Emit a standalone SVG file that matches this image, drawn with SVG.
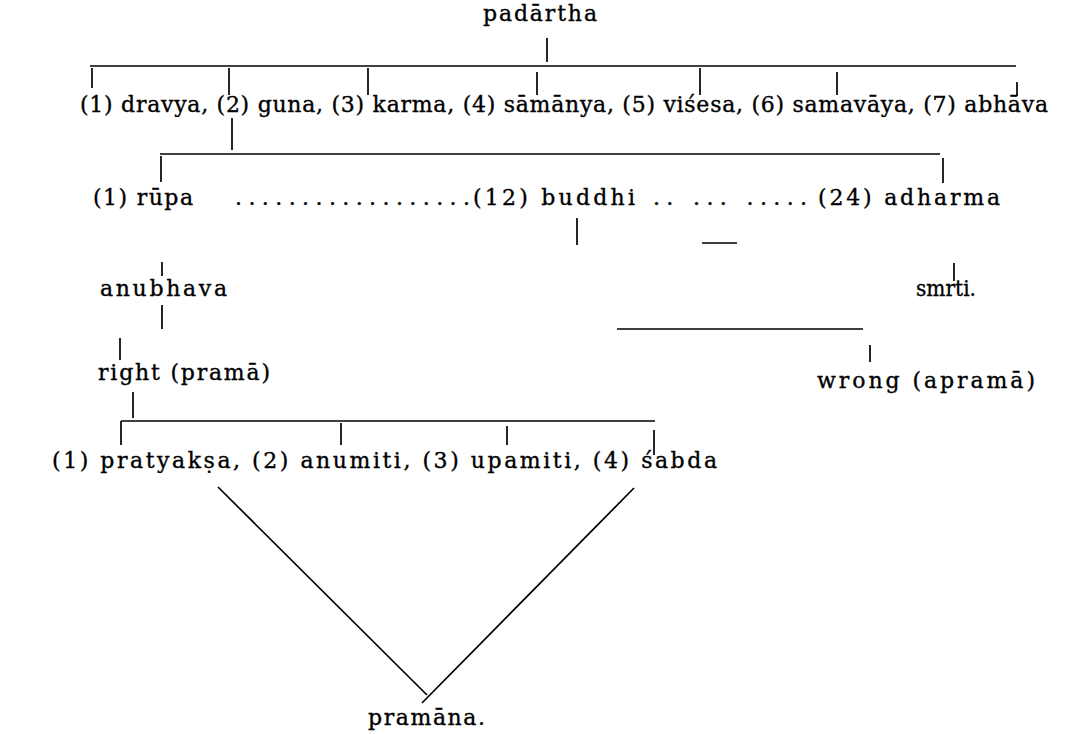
<svg xmlns="http://www.w3.org/2000/svg" width="1083" height="734" viewBox="0 0 1083 734">
<style>
text{font-family:"DejaVu Serif","Liberation Serif",serif;font-size:22px;fill:#000;stroke:#000;stroke-width:0.35}
.c line{stroke:#000;stroke-width:1.7}
</style>
<rect width="1083" height="734" fill="#fff"/>
<g class="c" id="connectors">
<line x1="547" y1="38" x2="547" y2="62"/>
<line x1="90" y1="66" x2="1016" y2="66"/>
<line x1="92" y1="68" x2="92" y2="88"/>
<line x1="229" y1="68" x2="229" y2="95"/>
<line x1="368" y1="68" x2="368" y2="95"/>
<line x1="537" y1="72" x2="537" y2="95"/>
<line x1="700" y1="68" x2="700" y2="95"/>
<line x1="837" y1="72" x2="837" y2="95"/>
<line x1="1017" y1="82" x2="1017" y2="96"/>
<line x1="232" y1="118" x2="232" y2="150"/>
<line x1="160" y1="154" x2="940" y2="154"/>
<line x1="161" y1="156" x2="161" y2="182"/>
<line x1="943" y1="158" x2="943" y2="183"/>
<line x1="577" y1="218" x2="577" y2="245"/>
<line x1="702" y1="243" x2="737" y2="243"/>
<line x1="162" y1="262" x2="162" y2="276"/>
<line x1="954" y1="263" x2="954" y2="281"/>
<line x1="162" y1="305" x2="162" y2="329"/>
<line x1="617" y1="329" x2="863" y2="329"/>
<line x1="870" y1="345" x2="870" y2="362"/>
<line x1="120" y1="338" x2="120" y2="360"/>
<line x1="133" y1="392" x2="133" y2="418"/>
<line x1="121" y1="421" x2="655" y2="421"/>
<line x1="121" y1="421" x2="121" y2="445"/>
<line x1="341" y1="423" x2="341" y2="445"/>
<line x1="507" y1="426" x2="507" y2="445"/>
<line x1="654" y1="430" x2="654" y2="455"/>
<line x1="218" y1="487" x2="427" y2="695"/>
<line x1="634" y1="488" x2="422" y2="703"/>
</g>
<g id="n-padartha"><text x="483" y="21" textLength="114">padārtha</text></g>
<g id="n-row1"><text x="80" y="112" textLength="968">(1) dravya, (2) guna, (3) karma, (4) sāmānya, (5) viśesa, (6) samavāya, (7) abhāva</text></g>
<g id="n-rupa"><text x="93" y="205" textLength="100">(1) rūpa</text></g>
<g id="n-dots1"><text x="235" y="205" textLength="235">..................</text></g>
<g id="n-buddhi"><text x="473" y="205" textLength="162">(12) buddhi</text></g>
<g id="n-dots2"><text x="653" y="205" textLength="154">.. ... .....</text></g>
<g id="n-adharma"><text x="818" y="205" textLength="182">(24) adharma</text></g>
<g id="n-anubhava"><text x="100" y="296" textLength="127">anubhava</text></g>
<g id="n-smrti"><text x="916" y="296" textLength="60" lengthAdjust="spacingAndGlyphs">smrti.</text></g>
<g id="n-right"><text x="98" y="380" textLength="172">right (pramā)</text></g>
<g id="n-wrong"><text x="817" y="388" textLength="218">wrong (apramā)</text></g>
<g id="n-row4"><text x="52" y="468" textLength="665">(1) pratyakṣa, (2) anumiti, (3) upamiti, (4) śabda</text></g>
<g id="n-pramana"><text x="368" y="725" textLength="117">pramāna.</text></g>
</svg>
